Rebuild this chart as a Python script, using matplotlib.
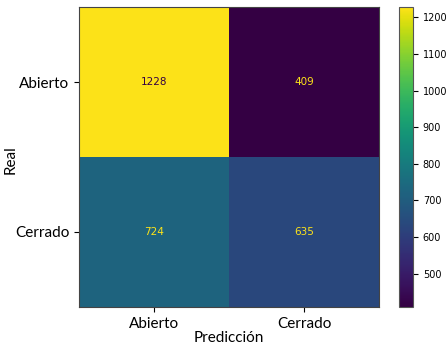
import numpy as np
import matplotlib
matplotlib.use("Agg")
import matplotlib.pyplot as plt
from matplotlib.colors import ListedColormap

# Confusion matrix: rows = real class, columns = predicted class
labels = ["Abierto", "Cerrado"]
matrix = np.array([[1228, 409],
                   [724, 635]])

# Viridis with a slightly deeper tone curve
base = plt.get_cmap("viridis")(np.linspace(0, 1, 256))
base[:, :3] = base[:, :3] ** 1.2
cmap = ListedColormap(base, name="viridis_deep")

fig = plt.figure(figsize=(4.48, 3.44), dpi=100)
ax = fig.add_axes([0.176, 0.1076, 0.670, 0.872])
cax = fig.add_axes([0.891, 0.1076, 0.031, 0.872])

vmin, vmax = matrix.min(), matrix.max()
im = ax.imshow(matrix, cmap=cmap, vmin=vmin, vmax=vmax, aspect="auto")

thresh = (vmax + vmin) / 2.0
for i in range(matrix.shape[0]):
    for j in range(matrix.shape[1]):
        color = cmap(0.0) if matrix[i, j] > thresh else cmap(1.0)
        ax.text(j, i, f"{matrix[i, j]}", ha="center", va="center",
                color=color, fontsize=7.5)

label_font = dict(family=["Lato", "DejaVu Sans"], fontsize=11)
ax.set_xticks(range(len(labels)))
ax.set_yticks(range(len(labels)))
ax.set_xticklabels(labels, **label_font)
ax.set_yticklabels(labels, **label_font)
ax.set_xlabel("Predicción", labelpad=0, **label_font)
ax.set_ylabel("Real", **label_font)
ax.yaxis.set_label_coords(-0.203, 0.49)
for s in ax.spines.values():
    s.set_color("#444444")

cb = fig.colorbar(im, cax=cax)
cb.set_ticks([500, 600, 700, 800, 900, 1000, 1100, 1200])
cb.ax.tick_params(labelsize=7)
cb.outline.set_edgecolor("#555555")

fig.savefig("out.png", dpi=100)
